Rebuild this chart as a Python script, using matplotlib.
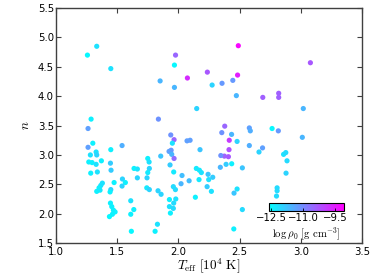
import matplotlib
matplotlib.use("Agg")
import matplotlib.pyplot as plt
import numpy as np

plt.rcParams["mathtext.fontset"] = "cm"
plt.rcParams["font.family"] = "DejaVu Sans"

# effective temperature [10^4 K]
teff = [1.256, 1.332, 1.447, 1.850, 1.976, 1.967, 1.967, 2.073, 2.236, 2.275,
        2.356, 2.444, 2.483, 2.489, 2.473, 2.689, 2.819, 2.819, 3.078, 1.286,
        1.261, 1.836, 1.937, 1.964, 2.149, 3.020, 2.378, 2.354, 2.434, 2.579,
        2.587, 2.765, 2.816, 3.012, 2.070, 2.095, 2.415, 2.479, 2.413, 2.408,
        2.375, 2.346, 2.389, 2.435, 2.342, 2.579, 2.658, 2.687, 2.859, 2.877,
        2.887, 2.879, 2.522, 2.479, 2.454, 2.806, 2.806, 2.801, 2.522, 2.452,
        2.138, 2.234, 2.269, 2.176, 2.146, 2.171, 2.187, 2.087, 2.168, 2.247,
        2.280, 2.242, 1.950, 1.940, 1.923, 1.945, 1.964, 1.749, 1.760, 1.762,
        1.749, 1.743, 1.855, 1.931, 1.961, 2.029, 2.021, 1.741, 1.762, 1.833,
        1.858, 1.958, 1.975, 1.978, 1.926, 1.961, 1.926, 1.958, 1.934, 1.828,
        1.809, 1.261, 1.300, 1.280, 1.327, 1.332, 1.267, 1.294, 1.327, 1.370,
        1.283, 1.337, 1.447, 1.539, 1.444, 1.449, 1.378, 1.365, 1.351, 1.332,
        1.359, 1.474, 1.447, 1.441, 1.542, 1.566, 1.539, 1.664, 1.637, 1.664,
        1.444, 1.455, 1.468, 1.482, 1.460, 1.436, 1.610, 1.635, 1.610, 1.615]

# polytropic index n
n_index = [4.70, 4.85, 4.47, 4.26, 4.70, 4.53, 4.15, 4.31, 4.41, 4.19,
           4.22, 4.27, 4.36, 4.86, 4.01, 3.98, 4.05, 3.98, 4.57, 3.61,
           3.45, 3.61, 3.34, 3.26, 3.79, 3.79, 3.49, 3.38, 3.35, 3.46,
           3.41, 3.45, 3.41, 3.30, 3.24, 3.25, 3.25, 3.23, 3.09, 2.97,
           2.98, 2.99, 2.84, 2.85, 2.79, 3.16, 3.05, 3.12, 3.01, 3.04,
           2.90, 2.69, 2.78, 2.42, 2.35, 2.44, 2.39, 2.30, 2.07, 1.74,
           2.28, 2.46, 2.38, 3.09, 2.77, 2.74, 2.70, 2.56, 2.58, 2.58,
           2.62, 2.67, 3.20, 3.08, 3.06, 3.01, 2.94, 2.94, 2.88, 2.77,
           2.70, 2.61, 2.98, 2.83, 2.71, 2.65, 2.51, 2.44, 2.41, 2.39,
           2.33, 2.46, 2.41, 2.25, 2.24, 2.18, 2.12, 2.09, 2.01, 1.82,
           1.70, 3.13, 3.20, 3.00, 3.05, 3.00, 2.88, 2.87, 2.84, 2.90,
           2.69, 2.71, 3.09, 3.16, 2.86, 2.74, 2.52, 2.48, 2.44, 2.38,
           2.40, 2.53, 2.41, 2.37, 2.59, 2.53, 2.47, 2.76, 2.77, 2.61,
           2.18, 2.12, 2.06, 2.03, 1.99, 1.95, 2.22, 2.07, 1.99, 1.70]

# log rho_0 [g cm^-3]
log_rho = [-12.5, -12.2, -12.2, -11.6, -10.5, -12.5, -11.6, -9.7, -10.3, -12.0,
           -11.2, -11.2, -9.5, -9.2, -11.6, -10.4, -10.4, -10.4, -10.3, -12.4,
           -11.3, -11.1, -11.1, -10.5, -12.0, -11.6, -10.5, -11.1, -11.6, -11.3,
           -11.5, -12.5, -11.2, -11.6, -11.3, -11.3, -9.9, -12.0, -10.2, -10.3,
           -10.4, -11.1, -11.9, -12.4, -11.6, -11.5, -12.0, -11.3, -12.2, -12.1,
           -12.1, -12.0, -11.8, -12.2, -11.8, -12.1, -12.1, -12.1, -12.1, -12.4,
           -12.4, -11.9, -12.2, -11.8, -12.3, -12.3, -12.2, -11.7, -12.3, -12.2,
           -11.9, -11.8, -12.2, -11.2, -11.3, -11.6, -10.6, -12.4, -12.2, -12.0,
           -12.3, -12.0, -11.8, -11.9, -12.3, -11.7, -11.6, -12.3, -12.0, -12.0,
           -12.0, -12.1, -12.1, -12.2, -12.4, -12.1, -12.2, -12.1, -12.4, -12.2,
           -12.4, -11.3, -12.4, -12.2, -12.2, -12.0, -12.4, -12.4, -12.2, -12.4,
           -12.4, -12.2, -12.4, -11.5, -11.9, -11.9, -12.2, -12.2, -12.4, -12.4,
           -12.3, -12.4, -12.0, -12.4, -12.0, -12.4, -12.0, -12.2, -12.4, -12.0,
           -12.4, -12.4, -12.4, -12.4, -12.4, -12.5, -12.2, -12.4, -12.4, -12.5]

cbar_ticks = [-12.5, -11.0, -9.5]

fig = plt.figure(figsize=(3.74, 2.8), dpi=100)
ax = fig.add_axes([0.15, 0.132, 0.818, 0.839])

sc = ax.scatter(teff, n_index, c=log_rho, cmap="cool", vmin=-12.6, vmax=-9.1,
                s=14, edgecolors="none")

ax.set_xlim(1.0, 3.5)
ax.set_ylim(1.5, 5.5)
ax.set_xticks(np.arange(1.0, 3.51, 0.5))
ax.set_yticks(np.arange(1.5, 5.51, 0.5))
ax.tick_params(direction="in", top=True, right=True, labelsize=7.3, length=3.5,
               width=0.8, color="0.25")
ax.tick_params(axis="x", pad=2.5)
ax.tick_params(axis="y", pad=1.5)
for sp in ax.spines.values():
    sp.set_color("0.25")
    sp.set_linewidth(1.0)

ax.set_xlabel(r"$T_{\rm eff}\ [10^4\ {\rm K}]$", fontsize=9.5, labelpad=0)
ax.set_ylabel(r"$n$", fontsize=9.5, labelpad=4)

cax = fig.add_axes([0.719, 0.246, 0.2, 0.0286])
cb = fig.colorbar(sc, cax=cax, orientation="horizontal", ticks=cbar_ticks)
cb.ax.tick_params(labelsize=7.3, length=2, width=0.6, pad=1.5, direction="in")
cb.outline.set_linewidth(0.8)
cb.set_label(r"$\log\rho_0\ [{\rm g\ cm^{-3}}]$", fontsize=7.8, labelpad=2)

fig.savefig("out.png", dpi=100)
